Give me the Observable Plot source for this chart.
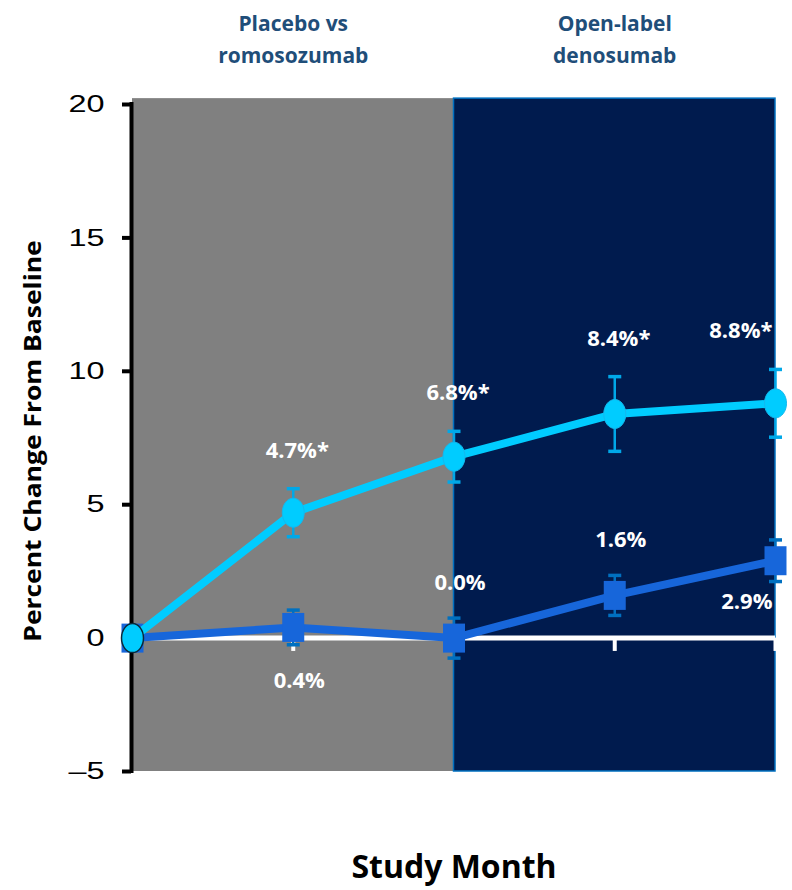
<!DOCTYPE html>
<html>
<head>
<meta charset="utf-8">
<script src="https://cdn.jsdelivr.net/npm/d3@7"></script>
<script src="https://cdn.jsdelivr.net/npm/@observablehq/plot@0.6"></script>
<style>
  html, body { margin: 0; padding: 0; background: #ffffff; }
  #chart svg { display: block; }
</style>
</head>
<body>
<div id="chart"></div>
<script>
// Study months at which lumbar-spine BMD was measured
const months = [0, 6, 12, 18, 24];

// Romosozumab → denosumab arm: mean % change and error half-widths
const romoValues = [0, 4.7, 6.8, 8.4, 8.8];
const romoErrors = [0, 0.9, 0.95, 1.4, 1.27];
const romoSignificant = [false, true, true, true, true];

// Placebo → denosumab arm
const placeboValues = [0, 0.4, 0.0, 1.6, 2.9];
const placeboErrors = [0, 0.65, 0.75, 0.75, 0.78];

// Treatment phases shown as shaded panels
const phaseNames = ["Placebo vs\nromosozumab", "Open-label\ndenosumab"];
const phaseStarts = [0, 12];
const phaseEnds = [12, 24];
const phaseFills = ["#808080", "#001B4E"];

const yTicks = [-5, 0, 5, 10, 15, 20];
const yTitle = "Percent Change From Baseline";
const xTitle = "Study Month";

// Build tables
const romo = months.map((m, i) => ({
  month: m, value: romoValues[i], err: romoErrors[i],
  label: `${romoValues[i].toFixed(1)}%${romoSignificant[i] ? "*" : ""}`
}));
const placebo = months.map((m, i) => ({
  month: m, value: placeboValues[i], err: placeboErrors[i],
  label: `${placeboValues[i].toFixed(1)}%`
}));
const phases = phaseNames.map((name, i) => ({
  name, start: phaseStarts[i], end: phaseEnds[i], fill: phaseFills[i],
  mid: (phaseStarts[i] + phaseEnds[i]) / 2
}));

// Custom marker shapes
const ellipse = {
  draw(ctx) {
    const rx = 11, ry = 14.5, k = 0.5523;
    ctx.moveTo(rx, 0);
    ctx.bezierCurveTo(rx, ry * k, rx * k, ry, 0, ry);
    ctx.bezierCurveTo(-rx * k, ry, -rx, ry * k, -rx, 0);
    ctx.bezierCurveTo(-rx, -ry * k, -rx * k, -ry, 0, -ry);
    ctx.bezierCurveTo(rx * k, -ry, rx, -ry * k, rx, 0);
    ctx.closePath();
  }
};
const tallSquare = {
  draw(ctx) { ctx.rect(-11, -14.5, 22, 29); }
};
const cap = {
  draw(ctx) { ctx.moveTo(-6.5, 0); ctx.lineTo(6.5, 0); }
};

const cyan = "#00CCFF", cyanErr = "#00A8E8";
const blue = "#1766DA", blueErr = "#0070C0";
const labelFont = {fill: "white", fontSize: 22, fontWeight: "bold", fontFamily: "Open Sans"};

const last = months[months.length - 1];
const withErr = (rows) => rows.filter(d => d.err > 0);

const chart = Plot.plot({
  width: 792,
  height: 890,
  marginLeft: 132,
  marginRight: 17,
  marginTop: 104,
  marginBottom: 119,
  style: {fontFamily: "Open Sans", background: "white", overflow: "visible"},
  x: {domain: [0, 24], axis: null},
  y: {domain: [-5, 20], axis: null},
  marks: [
    // shaded phase panels
    Plot.rect(phases, {x1: "start", x2: "end", y1: -5, y2: 20.22, fill: "fill"}),
    Plot.rect(phases.filter(p => p.start > 0), {x1: "start", x2: "end", y1: -5, y2: 20.22,
      fill: "none", stroke: "#0070C0", strokeWidth: 1.5}),

    // phase headings
    Plot.text(phases, {x: "mid", y: 20, dy: -68, text: "name", lineHeight: 1.55,
      fill: "#1F4E79", fontSize: 21, fontWeight: "bold", fontFamily: "Open Sans"}),

    // zero reference line and month ticks
    Plot.ruleY([0], {x1: 0, x2: 24, stroke: "white", strokeWidth: 5}),
    Plot.ruleX(months.slice(1), {y1: 0, y2: -0.5, stroke: "white", strokeWidth: 4}),

    // y axis
    Plot.ruleX([0], {y1: -5, y2: 20, stroke: "black", strokeWidth: 4, dx: -1, strokeLinecap: "square"}),
    Plot.axisY(yTicks, {tickSize: 9, tickPadding: 18, stroke: "black", strokeWidth: 4,
      fill: "black", fontSize: 24, fontFamily: "Liberation Sans, Arial",
      tickFormat: d => d < 0 ? `\u2013${-d}` : `${d}`, label: null, dx: -1}),
    Plot.text([yTitle], {frameAnchor: "left", textAnchor: "middle",
      dx: -99, dy: 3, rotate: -90, fill: "black", fontSize: 23, fontWeight: "bold",
      fontFamily: "Open Sans"}),

    // x axis title
    Plot.text([xTitle], {x: 12, y: -5, dy: 96, fill: "black", fontSize: 32,
      fontWeight: "bold", fontFamily: "Open Sans"}),

    // placebo → denosumab series
    Plot.line(placebo, {x: "month", y: "value", stroke: blue, strokeWidth: 8}),
    Plot.ruleX(withErr(placebo), {x: "month", y1: d => d.value - d.err, y2: d => d.value + d.err,
      stroke: blueErr, strokeWidth: 2.5}),
    Plot.dot(withErr(placebo), {x: "month", y: d => d.value + d.err, symbol: cap, fill: "none",
      stroke: blueErr, strokeWidth: 3.5}),
    Plot.dot(withErr(placebo), {x: "month", y: d => d.value - d.err, symbol: cap, fill: "none",
      stroke: blueErr, strokeWidth: 3.5}),
    Plot.dot(placebo, {x: "month", y: "value", symbol: tallSquare, fill: blue, stroke: "none"}),

    // romosozumab → denosumab series
    Plot.line(romo, {x: "month", y: "value", stroke: cyan, strokeWidth: 8}),
    Plot.ruleX(withErr(romo), {x: "month", y1: d => d.value - d.err, y2: d => d.value + d.err,
      stroke: cyanErr, strokeWidth: 2.5}),
    Plot.dot(withErr(romo), {x: "month", y: d => d.value + d.err, symbol: cap, fill: "none",
      stroke: cyanErr, strokeWidth: 3.5}),
    Plot.dot(withErr(romo), {x: "month", y: d => d.value - d.err, symbol: cap, fill: "none",
      stroke: cyanErr, strokeWidth: 3.5}),
    Plot.dot(romo.slice(1), {x: "month", y: "value", symbol: ellipse, fill: cyan, stroke: "#14B8EE", strokeWidth: 1}),
    Plot.dot(romo.slice(0, 1), {x: "month", y: "value", symbol: ellipse, fill: cyan, stroke: "#0B2A3A", strokeWidth: 1.5}),

    // value labels: romosozumab arm (above the error bars)
    Plot.text(romo.filter(d => d.month > 0 && d.month < last), {x: "month", y: d => d.value + d.err,
      dy: -38, dx: 4, text: "label", ...labelFont}),
    Plot.text(romo.filter(d => d.month === last), {x: "month", y: d => d.value + d.err,
      dy: -38, dx: -3, textAnchor: "end", text: "label", ...labelFont}),

    // value labels: placebo arm
    Plot.text(placebo.filter(d => d.month === 6), {x: "month", y: d => d.value - d.err,
      dy: 36, dx: 6, text: "label", ...labelFont}),
    Plot.text(placebo.filter(d => d.month === 12 || d.month === 18), {x: "month", y: d => d.value + d.err,
      dy: -35, dx: 6, text: "label", ...labelFont}),
    Plot.text(placebo.filter(d => d.month === last), {x: "month", y: d => d.value - d.err,
      dy: 20, dx: -3, textAnchor: "end", text: "label", ...labelFont})
  ]
});

// widen the y tick numerals horizontally
chart.querySelectorAll('g[aria-label="y-axis tick label"] text').forEach(t => {
  const tr = t.getAttribute("transform") || "";
  t.setAttribute("transform", `${tr} scale(1.35,1)`);
});
// stretch the rotated y title along its reading direction
chart.querySelectorAll("text").forEach(t => {
  if (t.textContent === yTitle) {
    const tr = t.getAttribute("transform") || "";
    t.setAttribute("transform", `${tr} scale(1.15,1)`);
  }
});

document.getElementById("chart").appendChild(chart);
</script>
</body>
</html>
